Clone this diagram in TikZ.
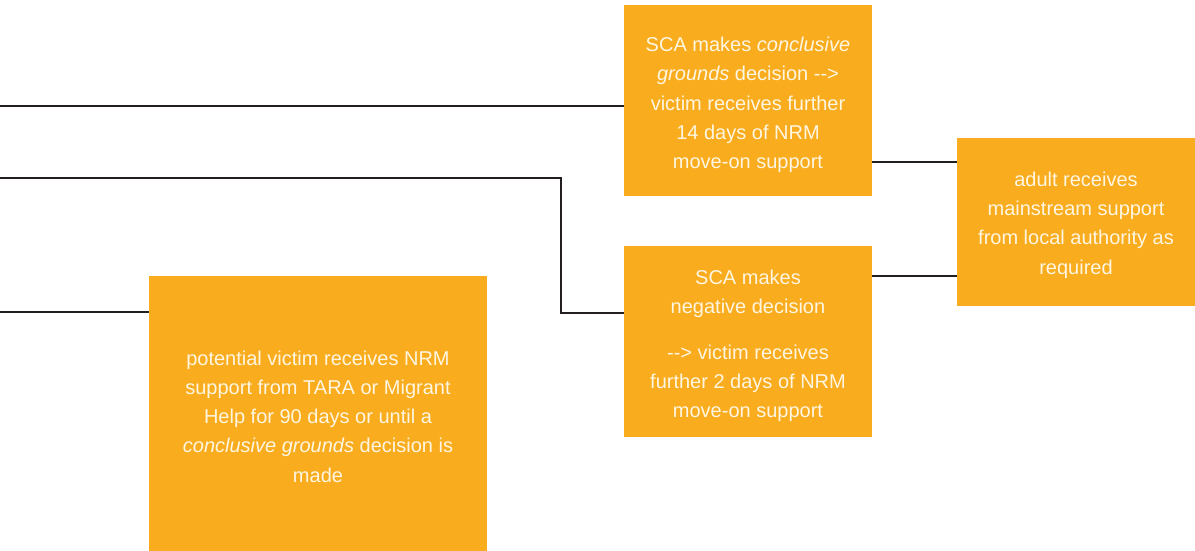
\documentclass[tikz,border=0pt]{standalone}
\usepackage{fontspec}
\setmainfont{Liberation Sans}
\definecolor{nrmorange}{RGB}{249,172,29}
\definecolor{nrmtext}{RGB}{255,246,226}
\definecolor{nrmline}{RGB}{35,31,32}
\tikzset{
  stagebox/.style={fill=nrmorange, inner sep=0pt},
  stagetext/.style={text=nrmtext, inner sep=0pt, align=center,
    font=\fontsize{20}{29.3}\selectfont},
  link/.style={draw=nrmline, line width=2pt}
}
\begin{document}
\begin{tikzpicture}[x=1pt,y=-1pt]
  \useasboundingbox (0,0) rectangle (1195,551);
  \node[stagebox, minimum width=248, minimum height=191] (cg) at (748,100.5) {};
  \node[stagebox, minimum width=248, minimum height=191] (neg) at (748,341.5) {};
  \node[stagebox, minimum width=238, minimum height=168] (adult) at (1076,222) {};
  \node[stagebox, minimum width=338, minimum height=275] (nrm) at (318,413.5) {};
  \node[stagetext] (cgtext) at ([yshift=-4.5pt]cg.center)
    {SCA makes \textit{conclusive}\\\textit{grounds} decision -{}->\\victim receives further\\14 days of NRM\\move-on support};
  \node[stagetext] (negtext) at ([yshift=-4.5pt]neg.center)
    {SCA makes\\negative decision\\[16pt]-{}-> victim receives\\further 2 days of NRM\\move-on support};
  \node[stagetext] (adulttext) at ([yshift=-3pt]adult.center)
    {adult receives\\mainstream support\\from local authority as\\required};
  \node[stagetext] (nrmtext) at ([yshift=-3pt]nrm.center)
    {potential victim receives NRM\\support from TARA or Migrant\\Help for 90 days or until a\\\textit{conclusive grounds} decision is\\made};
  \coordinate (in1) at (0,106);
  \coordinate (in2) at (0,178);
  \coordinate (in3) at (0,312);
  \coordinate (bend) at (561,313);
  \begin{scope}[link]
    \draw (in1) -- (in1 -| cg.west);
    \draw (in2) -| (bend) -- (bend -| neg.west);
    \draw (in3) -- (in3 -| nrm.west);
    \draw (cg.east |- 0,162) -- (adult.west |- 0,162);
    \draw (neg.east |- 0,276) -- (adult.west |- 0,276);
  \end{scope}
\end{tikzpicture}
\end{document}
